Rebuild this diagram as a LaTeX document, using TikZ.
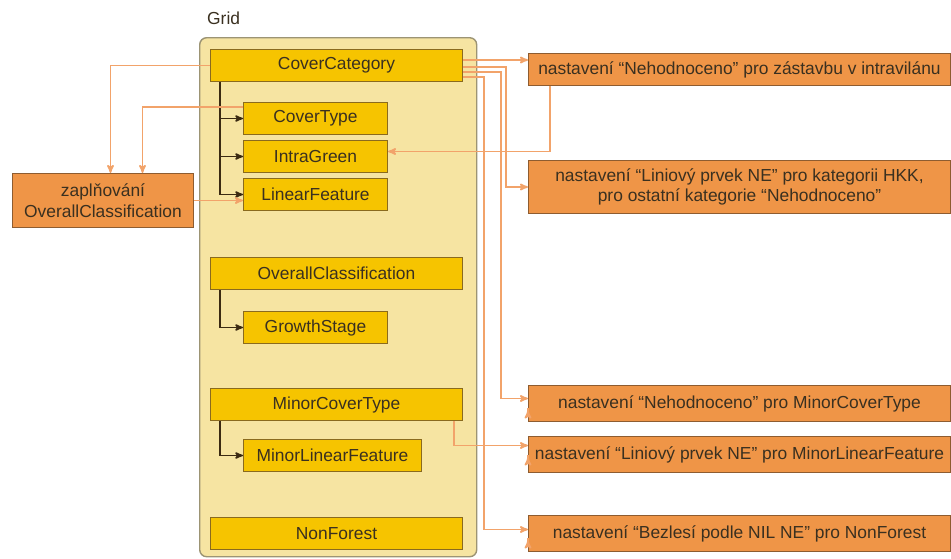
\documentclass[tikz,border=0pt]{standalone}
\usepackage{fontspec}
\setmainfont{Liberation Sans}
\usetikzlibrary{arrows}
\usetikzlibrary{positioning}
\usetikzlibrary{calc}

\definecolor{gridfill}{HTML}{F6E4A2}
\definecolor{gridline}{HTML}{9C9474}
\definecolor{attrfill}{HTML}{F6C400}
\definecolor{attrline}{HTML}{8A6A1E}
\definecolor{rulefill}{HTML}{EF9547}
\definecolor{ruleline}{HTML}{8E5C30}
\definecolor{flow}{HTML}{F2A36A}
\definecolor{trunk}{HTML}{3B2A12}
\definecolor{ink}{HTML}{3A3020}

\begin{document}
\begin{tikzpicture}[x=1pt,y=-1pt]
    \tikzset{
      >=stealth',
      every node/.style={font=\fontsize{17.4}{20.5}\selectfont, text=ink},
      gridbox/.style={draw=gridline, fill=gridfill, line width=1.4pt, rounded corners=7pt,
        anchor=north west, minimum width=277pt, minimum height=519pt},
      attr/.style={draw=attrline, fill=attrfill, line width=1pt, anchor=north west,
        minimum height=32pt, inner sep=0pt},
      rule/.style={draw=ruleline, fill=rulefill, line width=1pt, anchor=north west,
        minimum width=422pt, inner sep=0pt, align=center},
      treeline/.style={->, draw=trunk, line width=1.6pt},
      flowline/.style={->, draw=flow, line width=1.7pt},
    }
    \useasboundingbox (0,0) rectangle (951,558);

    \node[gridbox] (grid) at (199,37) {};
    \node[anchor=west, inner sep=0pt] (gridlabel) at (207,18) {Grid};

    \node[attr, minimum width=252pt] (cc) at (210,49) {CoverCategory};
    \node[attr, minimum width=144pt] (ct) at (243,102) {CoverType};
    \node[attr, minimum width=144pt] (ig) at (243,140) {IntraGreen};
    \node[attr, minimum width=144pt] (lf) at (243,178) {LinearFeature};
    \node[attr, minimum width=252pt] (oc) at (210,257) {OverallClassification};
    \node[attr, minimum width=144pt] (gs) at (243,311) {GrowthStage};
    \node[attr, minimum width=252pt] (mct) at (210,388) {MinorCoverType};
    \node[attr, minimum width=178pt] (mlf) at (243,439) {MinorLinearFeature};
    \node[attr, minimum width=252pt] (nf) at (210,517) {NonForest};

    \node[rule, minimum width=181pt, minimum height=54pt] (fill) at (12,173)
      {zaplňování\\OverallClassification};
    \node[rule, minimum height=32pt] (ra) at (528,53)
      {nastavení “Nehodnoceno” pro zástavbu v intravilánu};
    \node[rule, minimum height=53pt] (rb) at (528,160)
      {nastavení “Liniový prvek NE” pro kategorii HKK,\\pro ostatní kategorie “Nehodnoceno”};
    \node[rule, minimum height=36pt] (rc) at (528,385)
      {nastavení “Nehodnoceno” pro MinorCoverType};
    \node[rule, minimum height=36pt] (rd) at (528,436)
      {nastavení “Liniový prvek NE” pro MinorLinearFeature};
    \node[rule, minimum height=36pt] (re) at (528,515)
      {nastavení “Bezlesí podle NIL NE” pro NonForest};

    \coordinate (cctrunk) at ($(cc.south west)+(10,0)$);
    \coordinate (octrunk) at ($(oc.south west)+(10,0)$);
    \coordinate (mcttrunk) at ($(mct.south west)+(10,0)$);
    \draw[treeline] (cctrunk) |- (ct);
    \draw[treeline] (cctrunk) |- (ig);
    \draw[treeline] (cctrunk) |- (lf);
    \draw[treeline] (octrunk) |- (gs);
    \draw[treeline] (mcttrunk) |- (mlf);

    \coordinate (cca) at ($(cc.north east)+(0,11)$);
    \coordinate (ccb) at ($(cc.north east)+(0,18)$);
    \coordinate (ccc) at ($(cc.north east)+(0,23)$);
    \coordinate (ccd) at ($(cc.north east)+(0,28)$);
    \coordinate (ctout) at ($(ct.north west)+(0,5)$);
    \coordinate (raout) at ($(ra.south west)+(22,0)$);
    \coordinate (mctout) at ($(mct.south east)+(-9,0)$);

    \draw[flowline] (cc.west) -| ($(fill.north)+(7.5,0)$);
    \draw[flowline] (ctout) -| ($(fill.north)+(39.5,0)$);
    \draw[flowline] (fill.east) -- (fill.east -| lf.west);
    \draw[flowline] (cca) -- (cca -| ra.west);
    \draw[flowline] (ccb) -- ($(ccb)+(43,0)$) |- (rb.west);
    \draw[flowline] (ccc) -- ($(ccc)+(38,0)$) |- ($(rc.west)+(0,-5)$);
    \draw[flowline] (ccd) -- ($(ccd)+(21,0)$) |- ($(re.west)+(0,-4)$);
    \draw[flowline] (raout) |- ($(ig.east)+(0,-5)$);
    \draw[flowline] ($(rc.west)+(0,7)$) -- ($(rc.west)+(0,7)$ -| mct.east);
    \draw[flowline] (mctout) |- ($(rd.west)+(0,-9)$);
    \draw[flowline] ($(rd.west)+(0,3)$) -- ($(rd.west)+(0,3)$ -| mlf.east);
    \draw[flowline] ($(re.west)+(0,7)$) -- ($(re.west)+(0,7)$ -| nf.east);
  \end{tikzpicture}
\end{document}
